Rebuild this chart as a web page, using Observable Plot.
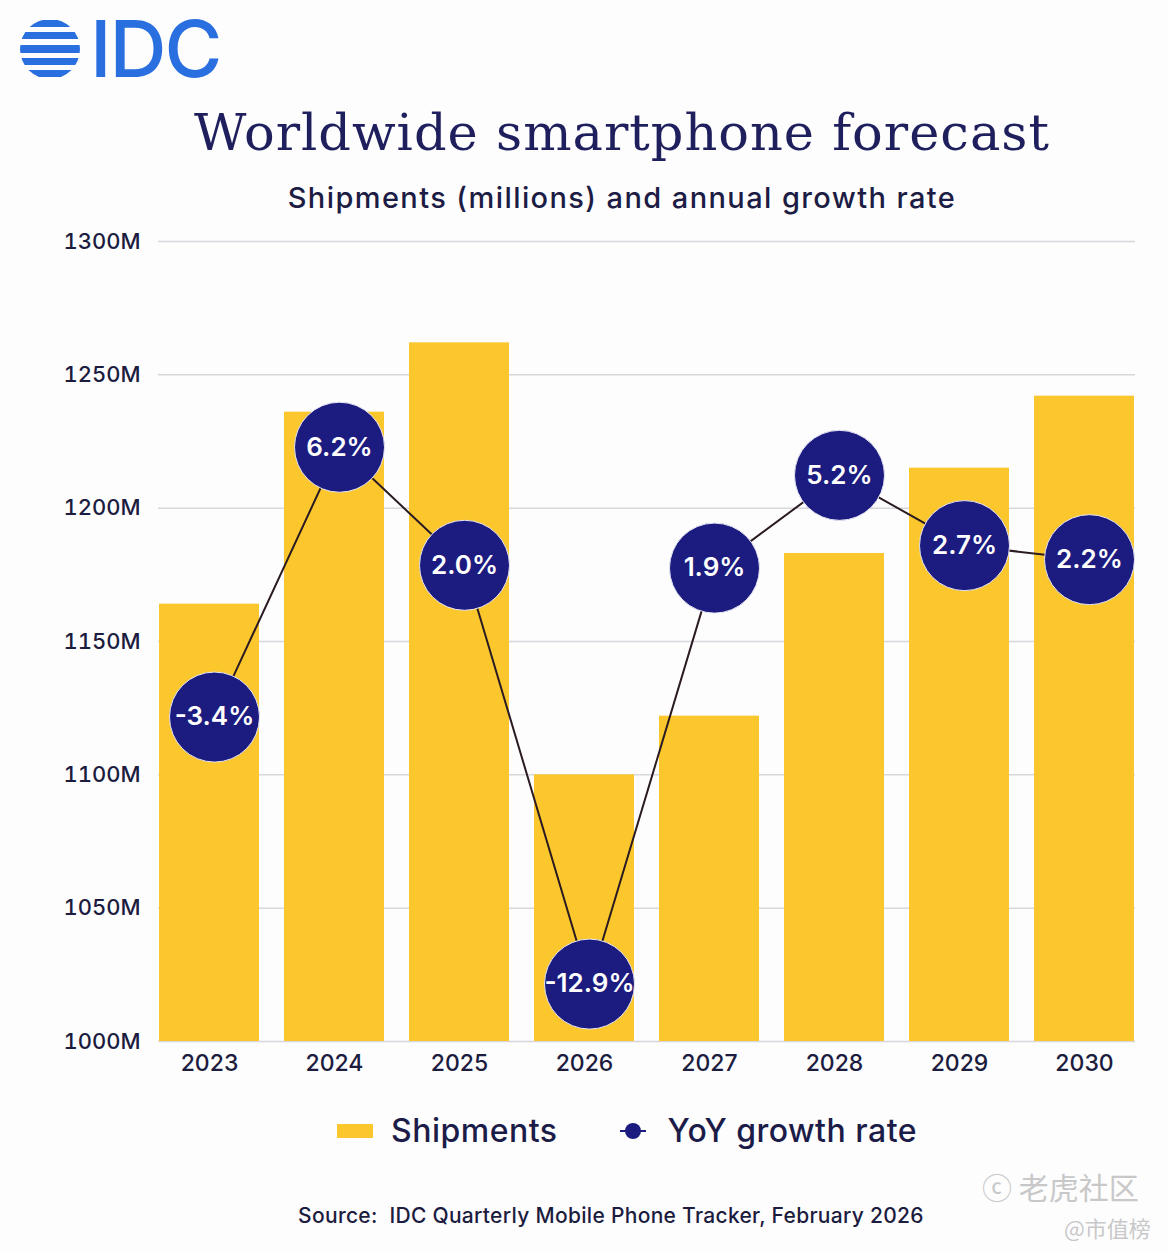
<!DOCTYPE html>
<html>
<head>
<meta charset="utf-8">
<script src="https://cdn.jsdelivr.net/npm/d3@7"></script>
<script src="https://cdn.jsdelivr.net/npm/@observablehq/plot@0.6"></script>
<style>
  html, body { margin: 0; padding: 0; background: #fdfdfe; }
  #page { position: relative; width: 1168px; height: 1252px; overflow: hidden; font-family: Inter, "Noto Sans", sans-serif; color: #1c1c3e; }
  .abs { position: absolute; }
  #title { left: 0; width: 1244px; top: 103px; text-align: center; font-family: "DejaVu Serif", serif; font-size: 51px; color: #1f1f5e; letter-spacing: 1px; white-space: nowrap; }
  #subtitle { left: 0; width: 1244px; top: 180px; text-align: center; font-size: 29px; font-weight: 500; color: #1c1c44; letter-spacing: 1.4px; white-space: nowrap; }
  #chart { left: 0; top: 220px; }
  #legend { top: 1111px; left: 337px; display: flex; align-items: center; font-size: 32px; font-weight: 500; color: #1c1c48; white-space: nowrap; letter-spacing: 0.5px; }
  #source { left: 0; width: 1222px; top: 1203px; text-align: center; font-size: 21px; font-weight: 500; color: #1c1c3e; letter-spacing: 0.3px; white-space: nowrap; }
  .wm { color: #c8c8c8; font-family: "Noto Sans CJK SC", sans-serif; white-space: nowrap; }
</style>
</head>
<body>
<div id="page">
  <svg class="abs" style="left:18px;top:0px" width="260" height="100" viewBox="0 0 260 100">
    <defs><clipPath id="lc"><circle cx="32" cy="49" r="30"/></clipPath></defs>
    <g clip-path="url(#lc)" fill="#2a6fe0">
      <rect x="0" y="20" width="64" height="7"/>
      <rect x="0" y="32" width="64" height="7"/>
      <rect x="0" y="45" width="64" height="8"/>
      <rect x="0" y="58" width="64" height="7"/>
      <rect x="0" y="70" width="64" height="7"/>
    </g>
    <text x="72" y="77" font-family="Inter, sans-serif" font-size="79" font-weight="500" fill="#2a6fe0" letter-spacing="-2">IDC</text>
  </svg>
  <div id="title" class="abs">Worldwide smartphone forecast</div>
  <div id="subtitle" class="abs">Shipments (millions) and annual growth rate</div>
  <div id="chart" class="abs"></div>
  <div id="legend" class="abs">
    <svg width="36" height="14" style="margin-right:18px"><rect width="36" height="14" fill="#fcc72c"/></svg>
    <span>Shipments</span>
    <svg width="26" height="20" style="margin-left:62px;margin-right:22px"><line x1="0" y1="10" x2="26" y2="10" stroke="#1c1c80" stroke-width="2"/><circle cx="13" cy="10" r="8" fill="#1c1c80"/></svg>
    <span>YoY growth rate</span>
  </div>
  <div id="source" class="abs">Source:&nbsp; IDC Quarterly Mobile Phone Tracker, February 2026</div>
  <div class="abs wm" style="left:982px;top:1164px;font-size:30px;">&#9426; 老虎社区</div>
  <div class="abs wm" style="left:1064px;top:1211px;font-size:22px;">@市值榜</div>
</div>
<script>
const years = ["2023", "2024", "2025", "2026", "2027", "2028", "2029", "2030"];
const shipments = [1164, 1236, 1262, 1100, 1122, 1183, 1215, 1242];
const growth = [-3.4, 6.2, 2.0, -12.9, 1.9, 5.2, 2.7, 2.2];
const yTicks = [1000, 1050, 1100, 1150, 1200, 1250, 1300];

// secondary (growth) axis mapped onto the shipments scale
const growthBase = 1157.5, growthPerPct = 10.54;
const g2y = v => growthBase + growthPerPct * v;

const rows = years.map((y, i) => ({year: y, shipments: shipments[i], growth: growth[i], gy: g2y(growth[i])}));

const navy = "#1c1c80";
const chart = Plot.plot({
  width: 1168,
  height: 870,
  marginLeft: 158,
  marginRight: 33,
  marginTop: 21,
  marginBottom: 49,
  style: {fontFamily: "Inter, 'Noto Sans', sans-serif", background: "transparent", color: "#1c1c3e"},
  x: {domain: years, paddingInner: 0.2, paddingOuter: 0, label: null, tickSize: 0, tickPadding: 13},
  y: {domain: [1000, 1300], label: null, ticks: yTicks, tickSize: 0, tickPadding: 18, tickFormat: d => d + "M"},
  marks: [
    Plot.gridY(yTicks, {stroke: "#d8d8dc", strokeOpacity: 1, strokeWidth: 1.5}),
    Plot.barY(rows, {x: "year", y1: 1000, y2: "shipments", fill: "#fcc72c"}),
    Plot.line(rows, {x: "year", y: "gy", stroke: "#2a1a22", strokeWidth: 2, dx: 5}),
    Plot.dot(rows, {x: "year", y: "gy", r: 45, fill: navy, stroke: "#e8e8f4", strokeWidth: 1, dx: 5}),
    Plot.text(rows, {x: "year", y: "gy", text: d => d.growth.toFixed(1) + "%", fill: "#ffffff", fontSize: 26, fontWeight: 600, dx: 5})
  ]
});
chart.querySelectorAll('g[aria-label="y-axis tick label"] text').forEach(t => t.style.fontSize = "22px");
chart.querySelectorAll('g[aria-label="x-axis tick label"] text').forEach(t => t.style.fontSize = "23px");
chart.querySelectorAll('g[aria-label$="tick label"]').forEach(g => { g.setAttribute("font-weight", "500"); });
document.getElementById("chart").appendChild(chart);
</script>
</body>
</html>
